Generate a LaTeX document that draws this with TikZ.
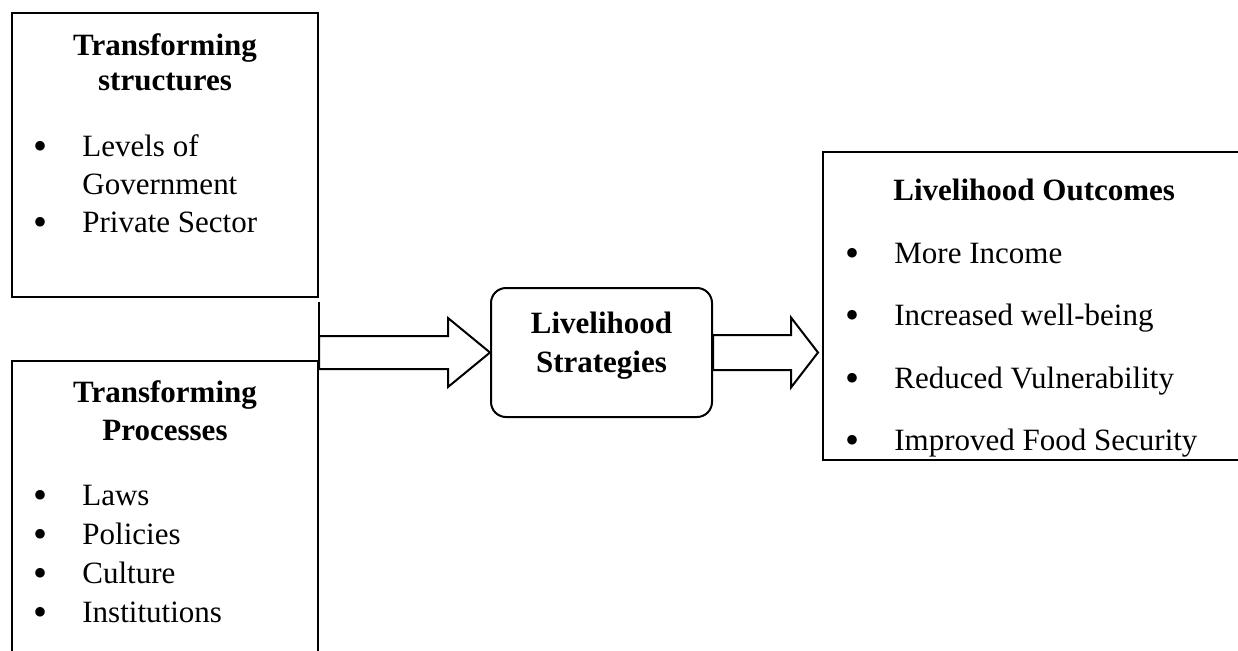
\documentclass[tikz,border=0pt]{standalone}
\usepackage{fontspec}
\setmainfont{Liberation Serif}
\usetikzlibrary{positioning,calc}

\newcommand{\bul}{\makebox[24.5pt][l]{\raisebox{-1.5pt}{\fontsize{20}{20}\selectfont\textbullet}}}
\newcommand{\blockarrow}[5]{%
  \draw[arrowline] let \p1=(#1), \p2=(#2) in
    (\x1,\y1+#3) -- (\x2-#5,\y1+#3) -- (\x2-#5,\y1+#4) -- (\x2,\y1)
    -- (\x2-#5,\y1-#4) -- (\x2-#5,\y1-#3) -- (\x1,\y1-#3) -- cycle;}

\begin{document}
\begin{tikzpicture}[x=0.5pt,y=-0.5pt,
    frame/.style={draw, line width=1pt, inner sep=0pt},
    heading/.style={font=\bfseries\fontsize{15.5}{#1}\selectfont, inner sep=0pt, anchor=base},
    entries/.style={font=\fontsize{15.5}{#1}\selectfont, inner sep=0pt, anchor=base west},
    arrowline/.style={draw, line width=1pt, fill=white, line join=miter}]
    \clip (0,0) rectangle (1238,650);
    % Cajas
    \node[frame, minimum width=153pt, minimum height=142pt] (struct) at (165,155) {};
    \node[frame, minimum width=153pt, minimum height=170pt] (proc) at (165,531) {};
    \node[frame, rounded corners=7.5pt, minimum width=110.5pt, minimum height=64.5pt] (strat) at (601.5,352.5) {};
    \node[frame, minimum width=240pt, minimum height=154pt] (outc) at (1063,306) {};

    \node[heading=17.5pt] (structtitle) at (165,55) {\begin{tabular}[t]{@{}c@{}}Transforming\\structures\end{tabular}};
    \node[entries=19pt] (structlist) at (33,156) {\begin{tabular}[t]{@{}l@{}}\bul Levels of\\\hspace{24.5pt}Government\\\bul Private Sector\end{tabular}};

    \node[heading=19pt] (proctitle) at (165,402) {\begin{tabular}[t]{@{}c@{}}Transforming\\Processes\end{tabular}};
    \node[entries=19.6pt] (proclist) at (33,505) {\begin{tabular}[t]{@{}l@{}}\bul Laws\\\bul Policies\\\bul Culture\\\bul Institutions\end{tabular}};

    \node[heading=19.5pt] (strattext) at (601.5,333) {\begin{tabular}[t]{@{}c@{}}Livelihood\\Strategies\end{tabular}};

    \node[heading=17pt, anchor=base west] (outctitle) at (893,200) {Livelihood Outcomes};
    \node[entries=31.25pt] (outclist) at (845,263) {\begin{tabular}[t]{@{}l@{}}\bul More Income\\\bul Increased well-being\\\bul Reduced Vulnerability\\\bul Improved Food Security\end{tabular}};

    % Flechas
    \draw[line width=1pt] (proc.north east) -- ([yshift=-2pt]struct.south east);
    \blockarrow{struct.east |- strat.west}{strat.west}{8.25pt}{17.25pt}{21pt}
    \blockarrow{strat.east}{$(outc.west |- strat.east)+(-2pt,0)$}{8.75pt}{17.5pt}{13.5pt}
\end{tikzpicture}
\end{document}
